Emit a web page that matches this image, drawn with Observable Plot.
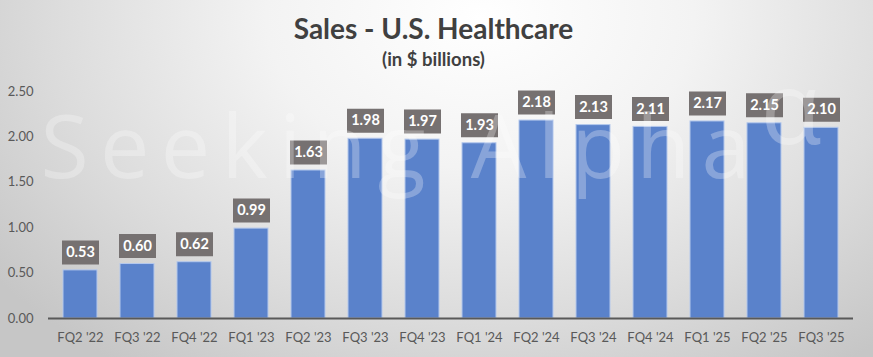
<!DOCTYPE html>
<html><head><meta charset="utf-8">
<script src="https://cdn.jsdelivr.net/npm/d3@7"></script>
<script src="https://cdn.jsdelivr.net/npm/@observablehq/plot@0.6"></script>
<style>
body{margin:0;}
#wrap{width:873px;height:357px;position:relative;overflow:hidden;
  background:radial-gradient(ellipse 70% 120% at 55% 5%, #ffffff 0%, #f3f3f3 35%, #dcdcdc 70%, #c6c6c6 100%);
  font-family:Lato,"Open Sans",sans-serif;}
#title{position:absolute;top:12px;left:-3px;width:873px;text-align:center;font-weight:bold;font-size:28px;color:#404040;line-height:32px;}
#subtitle{position:absolute;top:47px;left:-3px;width:873px;text-align:center;font-weight:bold;font-size:18.5px;color:#404040;line-height:24px;}
#chart{position:absolute;top:0;left:0;}
</style></head>
<body>
<div id="wrap">
  <div id="chart"></div>
  <div id="title">Sales - U.S. Healthcare</div>
  <div id="subtitle">(in $ billions)</div>
</div>
<script>
const quarters = ["FQ2 '22","FQ3 '22","FQ4 '22","FQ1 '23","FQ2 '23","FQ3 '23","FQ4 '23","FQ1 '24","FQ2 '24","FQ3 '24","FQ4 '24","FQ1 '25","FQ2 '25","FQ3 '25"];
const sales = [0.53,0.60,0.62,0.99,1.63,1.98,1.97,1.93,2.18,2.13,2.11,2.17,2.15,2.10];
const yTicks = [0,0.5,1.0,1.5,2.0,2.5];
const watermarkWord = ["Seeking Alpha"];
const watermarkMark = ["\u03B1"];

const data = quarters.map((q,i)=>({q, v: sales[i]}));
const boxSymbol = {draw(ctx){ ctx.rect(-18.5,-12,37,24); }};

const chart = Plot.plot({
  width: 873,
  height: 357,
  marginLeft: 48,
  marginRight: 20,
  marginTop: 91,
  marginBottom: 39,
  style: {background: "transparent", fontFamily: "Lato, 'Open Sans', sans-serif"},
  x: {domain: quarters, paddingInner: 0.41, paddingOuter: 0.205, label: null},
  y: {domain: [0, 2.5], label: null},
  marks: [
    Plot.axisY({ticks: yTicks, tickFormat: d3.format(".2f"), tickSize: 0, tickPadding: 15, fontSize: 13, fill: "#595959", label: null}),
    Plot.axisX({tickSize: 0, tickPadding: 14, fontSize: 13, fill: "#595959", label: null}),
    Plot.barY(data, {x: "q", y: "v", fill: "#5a82cb", stroke: "#b4c8ec", strokeWidth: 1}),
    Plot.ruleY([0], {stroke: "#595959", strokeWidth: 2}),
    Plot.dot(data, {x: "q", y: "v", symbol: boxSymbol, fill: "#767171", stroke: "none", dy: -18}),
    Plot.text(data, {x: "q", y: "v", text: d => d3.format(".2f")(d.v), dy: -18, fill: "white", fontWeight: "bold", fontSize: 14.5}),
    Plot.text(watermarkWord, {frameAnchor: "top-left", text: d => d, textAnchor: "start", lineAnchor: "bottom", dx: -8, dy: 86, fontSize: 88, fill: "white", fillOpacity: 0.28, fontFamily: "'Open Sans', sans-serif"}),
    Plot.text(watermarkMark, {frameAnchor: "top-left", text: d => d, textAnchor: "start", lineAnchor: "bottom", dx: 712, dy: 52, fontSize: 100, fill: "white", fillOpacity: 0.28, fontFamily: "'Open Sans', sans-serif"})
  ]
});
chart.querySelectorAll("text").forEach(t => {
  if (t.textContent === watermarkWord[0]) { t.setAttribute("textLength", 710); t.setAttribute("lengthAdjust", "spacing"); }
});
document.getElementById("chart").appendChild(chart);
</script>
</body></html>
